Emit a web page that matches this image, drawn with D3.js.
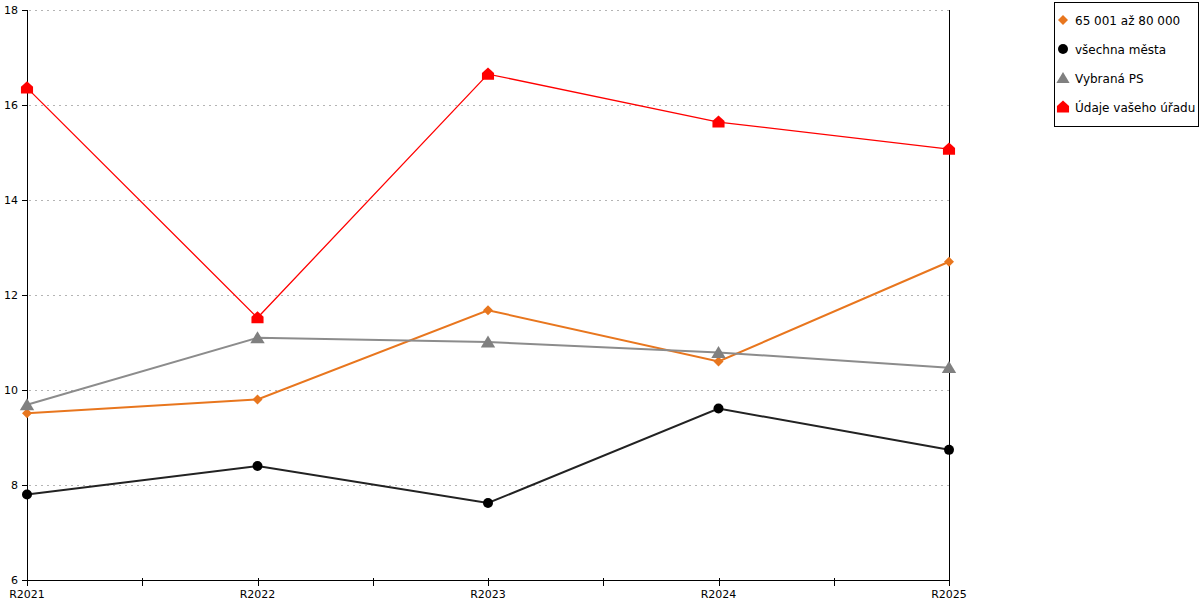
<!DOCTYPE html>
<html>
<head>
<meta charset="utf-8">
<script src="https://cdn.jsdelivr.net/npm/d3@7"></script>
<style>
body{margin:0;background:#fff;}
svg{display:block;font-family:"DejaVu Sans",Verdana,sans-serif;}
</style>
</head>
<body>
<svg id="canvas" width="1200" height="600"></svg>
<script>
// data
let years=["R2021","R2022","R2023","R2024","R2025"];
let yTicks=[6,8,10,12,14,16,18];
let seriesNames=["65 001 až 80 000","všechna města","Vybraná PS","Údaje vašeho úřadu"];
let orangeVals=[9.51,9.80,11.68,10.60,12.70];
let blackVals=[7.80,8.40,7.62,9.61,8.74];
let greyVals=[9.69,11.10,11.01,10.79,10.47];
let redVals=[16.36,11.52,16.65,15.64,15.07];

let colors=["#e8761e","#000000","#808080","#ff0000"];
let lineColors=["#e8761e","#222222","#8c8c8c","#ff0000"];
let lineWidths=[2,2,2,1.3];
let shapes=["diamond","circle","triangle","house"];
let allVals=[orangeVals,blackVals,greyVals,redVals];

let canvas=d3.select("#canvas");
let padL=27,padR=949,padT=10,padB=580;

let xScale=d3.scalePoint().domain(years).range([padL,padR]);
let yScale=d3.scaleLinear().domain([6,18]).range([padB,padT]);

// grid
canvas.append("g").selectAll("line").data(yTicks.slice(1)).enter().append("line")
  .attr("x1",padL+2).attr("x2",padR)
  .attr("y1",d=>yScale(d)+0.5).attr("y2",d=>yScale(d)+0.5)
  .attr("stroke","#b4b4b4").attr("stroke-dasharray","2,4");

// right border line
canvas.append("line").attr("x1",padR+0.5).attr("x2",padR+0.5).attr("y1",padT).attr("y2",padB)
  .attr("stroke","#000");

// y axis
let yAxis=d3.axisLeft(yScale).tickValues(yTicks).tickSize(5).tickPadding(4).tickFormat(d3.format("d"));
let yg=canvas.append("g").attr("transform","translate("+padL+",0)").call(yAxis);
yg.select(".domain").attr("d","M0.5,"+padT+"V"+padB);
yg.selectAll("text").style("font-size","11px").attr("fill","#000").attr("font-family","DejaVu Sans");

// x axis, with extra ticks halfway between categories
let xg=canvas.append("g").attr("transform","translate(0,"+padB+")");
xg.append("line").attr("x1",padL).attr("x2",padR).attr("y1",0.5).attr("y2",0.5).attr("stroke","#000");
let step=xScale.step();
let tickPos=[];
years.forEach((y,i)=>{tickPos.push(xScale(y)); if(i<years.length-1) tickPos.push(xScale(y)+step/2);});
xg.selectAll("line.t").data(tickPos).enter().append("line").attr("class","t")
  .attr("x1",d=>Math.round(d)+0.5).attr("x2",d=>Math.round(d)+0.5).attr("y1",-2).attr("y2",6).attr("stroke","#000");
xg.selectAll("text").data(years).enter().append("text")
  .attr("x",d=>xScale(d)).attr("y",18).attr("text-anchor","middle")
  .style("font-size","11px").text(d=>d);

// marker drawing
function marker(sel,shape,color,s){
  if(shape=="circle") sel.append("circle").attr("r",s*0.5).attr("fill",color);
  else if(shape=="diamond") sel.append("path").attr("d","M0,"+(-s*0.5)+"L"+(s*0.5)+",0L0,"+(s*0.5)+"L"+(-s*0.5)+",0Z").attr("fill",color);
  else if(shape=="triangle") sel.append("path").attr("d","M0,"+(-s*0.55)+"L"+(s*0.6)+","+(s*0.45)+"L"+(-s*0.6)+","+(s*0.45)+"Z").attr("fill",color);
  else sel.append("path").attr("d","M0,"+(-s*0.6)+"L"+(s*0.55)+","+(-s*0.1)+"L"+(s*0.55)+","+(s*0.5)+"L"+(-s*0.55)+","+(s*0.5)+"L"+(-s*0.55)+","+(-s*0.1)+"Z").attr("fill",color);
}
let sizes=[10,10,12,11];

let line=d3.line().x((d,i)=>xScale(years[i])).y(d=>yScale(d));
allVals.forEach((vals,k)=>{
  canvas.append("path").datum(vals).attr("d",line).attr("fill","none")
    .attr("stroke",lineColors[k]).attr("stroke-width",lineWidths[k]);
});
allVals.forEach((vals,k)=>{
  canvas.append("g").selectAll("g").data(vals).enter().append("g")
    .attr("transform",(d,i)=>"translate("+xScale(years[i])+","+yScale(d)+")")
    .each(function(){marker(d3.select(this),shapes[k],colors[k],sizes[k]);});
});

// legend
let lg=canvas.append("g").attr("transform","translate(1054,2)");
lg.append("rect").attr("x",0.5).attr("y",0.5).attr("width",144).attr("height",124).attr("fill","#fff").attr("stroke","#000");
seriesNames.forEach((n,k)=>{
  let g=lg.append("g").attr("transform","translate(9,"+(18+k*29)+")");
  marker(g,shapes[k],colors[k],[10,10,11,11][k]);
  g.append("text").attr("x",12).attr("y",4.5).style("font-size","12px").text(n);
});
</script>
</body>
</html>
